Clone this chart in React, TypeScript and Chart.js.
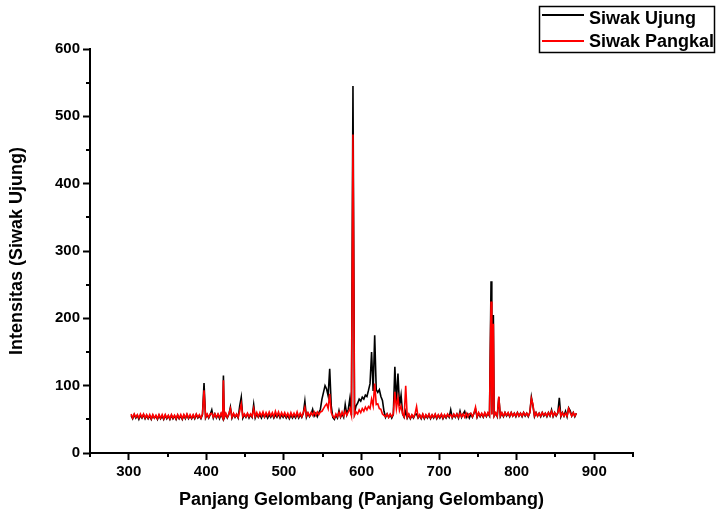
import { useEffect, useRef } from 'react';
import { Chart, registerables } from 'chart.js';

Chart.register(...registerables);

// Wavelength grid (nm)
const wavelengths: number[] = [
  303, 305, 307, 309, 311, 313, 315, 317, 319, 321,
  323, 325, 327, 329, 331, 333, 335, 337, 339, 341,
  343, 345, 347, 349, 351, 353, 355, 357, 359, 361,
  363, 365, 367, 369, 371, 373, 375, 377, 379, 381,
  383, 385, 387, 389, 391, 393, 395, 397, 399, 401,
  403, 405, 407, 409, 411, 413, 415, 417, 419, 421,
  422, 423, 425, 427, 429, 431, 433, 435, 437, 439,
  441, 443, 445, 447, 449, 451, 453, 455, 457, 459,
  461, 463, 465, 467, 469, 471, 473, 475, 477, 479,
  481, 483, 485, 487, 489, 491, 493, 495, 497, 499,
  501, 503, 505, 507, 509, 511, 513, 515, 517, 519,
  521, 523, 525, 527, 529, 531, 533, 535, 537, 539,
  541, 543, 545, 547, 549, 551, 553, 555, 557, 559,
  561, 563, 565, 567, 569, 571, 573, 575, 577, 579,
  581, 583, 585, 587, 589, 591, 593, 595, 597, 599,
  601, 603, 605, 607, 609, 611, 613, 615, 617, 619,
  621, 623, 625, 627, 629, 631, 633, 635, 637, 639,
  641, 643, 645, 647, 649, 651, 653, 655, 657, 659,
  661, 663, 665, 667, 669, 671, 673, 675, 677, 679,
  681, 683, 685, 687, 689, 691, 693, 695, 697, 699,
  701, 703, 705, 707, 709, 711, 713, 715, 717, 719,
  721, 723, 725, 727, 729, 731, 733, 735, 737, 739,
  741, 743, 745, 747, 749, 751, 753, 755, 757, 759,
  761, 763, 765, 767, 768, 770, 771, 773, 775, 777,
  779, 781, 783, 785, 787, 789, 791, 793, 795, 797,
  799, 801, 803, 805, 807, 809, 811, 813, 815, 817,
  819, 821, 823, 825, 827, 829, 831, 833, 835, 837,
  839, 841, 843, 845, 847, 849, 851, 853, 855, 857,
  859, 861, 863, 865, 867, 869, 871, 873, 875, 877,
];

// Siwak Ujung (black)
const siwakUjung: number[] = [
  56, 51, 57, 52, 56, 50, 56, 52, 57, 51,
  56, 51, 55, 50, 56, 52, 55, 50, 56, 51,
  55, 50, 56, 51, 55, 50, 56, 51, 55, 50,
  56, 51, 55, 50, 56, 51, 57, 51, 55, 51,
  56, 51, 57, 52, 55, 51, 57, 104, 52, 57,
  52, 57, 64, 52, 58, 52, 57, 51, 58, 52,
  115, 52, 58, 52, 57, 68, 52, 58, 53, 57,
  52, 70, 83, 52, 57, 53, 58, 52, 57, 53,
  72, 52, 58, 53, 57, 52, 58, 53, 57, 52,
  57, 53, 58, 52, 57, 53, 58, 52, 57, 53,
  57, 52, 56, 51, 57, 52, 56, 52, 58, 52,
  57, 53, 59, 77, 53, 59, 54, 58, 65, 55,
  59, 54, 60, 65, 80, 90, 100, 95, 85, 125,
  70, 53, 50, 56, 52, 63, 53, 58, 53, 72,
  57, 65, 81, 56, 545, 60, 70, 74, 80, 77,
  83, 80, 86, 84, 93, 103, 150, 92, 175, 94,
  90, 94, 84, 78, 62, 53, 58, 53, 57, 52,
  57, 128, 75, 118, 70, 86, 58, 53, 62, 52,
  57, 51, 56, 52, 57, 58, 52, 56, 51, 57,
  51, 56, 52, 57, 51, 56, 52, 57, 51, 56,
  52, 57, 51, 56, 52, 57, 53, 64, 52, 57,
  53, 58, 52, 62, 53, 58, 62, 53, 58, 52,
  58, 53, 59, 65, 53, 59, 54, 58, 53, 59,
  54, 59, 55, 255, 58, 205, 55, 59, 54, 83,
  54, 59, 54, 60, 55, 59, 54, 60, 55, 59,
  54, 60, 55, 59, 54, 60, 55, 59, 54, 60,
  83, 70, 54, 60, 55, 59, 54, 60, 55, 59,
  54, 60, 55, 64, 54, 60, 55, 59, 82, 54,
  60, 55, 62, 54, 67, 63, 55, 60, 54, 59,
];

// Siwak Pangkal (red)
const siwakPangkal: number[] = [
  58, 52, 58, 53, 57, 52, 58, 53, 58, 52,
  57, 52, 57, 51, 57, 52, 56, 51, 57, 52,
  57, 51, 57, 52, 56, 51, 57, 52, 56, 51,
  57, 52, 57, 51, 57, 52, 58, 52, 57, 52,
  57, 52, 58, 53, 57, 52, 58, 93, 53, 58,
  53, 58, 59, 53, 58, 53, 58, 53, 59, 53,
  108, 53, 59, 53, 58, 66, 53, 59, 54, 58,
  53, 62, 73, 54, 58, 54, 59, 54, 58, 54,
  66, 54, 60, 54, 60, 55, 61, 54, 60, 55,
  61, 55, 60, 54, 62, 55, 61, 54, 60, 55,
  60, 54, 59, 53, 60, 54, 59, 54, 61, 54,
  59, 54, 60, 68, 55, 60, 55, 60, 56, 61,
  56, 61, 57, 61, 62, 66, 70, 73, 66, 88,
  60, 55, 52, 58, 54, 60, 54, 61, 55, 62,
  56, 61, 66, 56, 473, 56, 61, 58, 64, 60,
  66, 62, 68, 64, 69, 66, 80, 70, 103, 72,
  73, 66, 65, 58, 56, 54, 58, 53, 58, 54,
  58, 91, 66, 82, 63, 70, 58, 54, 100, 53,
  58, 52, 57, 53, 58, 69, 53, 57, 52, 58,
  52, 57, 53, 58, 52, 57, 53, 58, 52, 57,
  53, 58, 52, 57, 53, 58, 54, 57, 53, 58,
  54, 58, 53, 59, 54, 58, 53, 59, 54, 58,
  59, 54, 59, 68, 54, 60, 55, 59, 54, 60,
  55, 60, 56, 225, 57, 192, 55, 60, 55, 84,
  55, 60, 55, 60, 56, 60, 55, 60, 55, 59,
  55, 60, 55, 59, 55, 60, 56, 59, 55, 60,
  81, 72, 55, 60, 55, 59, 55, 60, 56, 59,
  55, 60, 56, 62, 55, 60, 56, 60, 67, 55,
  60, 55, 59, 55, 66, 60, 55, 60, 55, 59,
];

const xMajorTicks: number[] = [300, 400, 500, 600, 700, 800, 900];
const xMinorTicks: number[] = [250, 350, 450, 550, 650, 750, 850, 950];
const yMinorTicks: number[] = [50, 150, 250, 350, 450, 550];

const seriesNames: string[] = ['Siwak Ujung', 'Siwak Pangkal'];
const seriesColors: string[] = ['#000000', '#ff0000'];

const FONT = "'Liberation Sans', Arial, Helvetica, sans-serif";

const decorPlugin = {
  id: 'decor',
  afterDraw(chart: any) {
    const { ctx, scales } = chart;
    const x = scales.x;
    const y = scales.y;
    const area = chart.chartArea;
    ctx.save();
    ctx.strokeStyle = '#000';
    ctx.lineWidth = 2;
    ctx.beginPath();
    xMinorTicks.forEach((v) => {
      const px = Math.round(x.getPixelForValue(v));
      ctx.moveTo(px, area.bottom);
      ctx.lineTo(px, area.bottom + 4);
    });
    yMinorTicks.forEach((v) => {
      const py = Math.round(y.getPixelForValue(v));
      ctx.moveTo(area.left - 4, py);
      ctx.lineTo(area.left, py);
    });
    ctx.stroke();

    // legend box
    const bx = 539, by = 6, bw = 176, bh = 47;
    ctx.lineWidth = 1.5;
    ctx.strokeRect(bx + 0.5, by + 0.5, bw - 1, bh - 1);
    const rows = [
      { lineY: 15, textY: 24 },
      { lineY: 41, textY: 47 },
    ];
    ctx.font = `bold 18px ${FONT}`;
    ctx.textBaseline = 'alphabetic';
    ctx.textAlign = 'left';
    rows.forEach((r, i) => {
      ctx.strokeStyle = seriesColors[i];
      ctx.lineWidth = 2;
      ctx.beginPath();
      ctx.moveTo(542, r.lineY);
      ctx.lineTo(584, r.lineY);
      ctx.stroke();
      ctx.fillStyle = '#000';
      ctx.fillText(seriesNames[i], 589, r.textY);
    });
    ctx.restore();
  },
};

export default function App() {
  const canvasRef = useRef<HTMLCanvasElement | null>(null);

  useEffect(() => {
    const canvas = canvasRef.current;
    if (!canvas) return;
    const toPoints = (vals: number[]) => wavelengths.map((w, i) => ({ x: w, y: vals[i] }));
    const chart = new Chart(canvas, {
      type: 'line',
      data: {
        datasets: [
          {
            label: seriesNames[0],
            data: toPoints(siwakUjung),
            borderColor: seriesColors[0],
            borderWidth: 1.6,
            pointRadius: 0,
            tension: 0,
            order: 2,
          },
          {
            label: seriesNames[1],
            data: toPoints(siwakPangkal),
            borderColor: seriesColors[1],
            borderWidth: 1.6,
            pointRadius: 0,
            tension: 0,
            order: 1,
          },
        ],
      },
      options: {
        responsive: false,
        animation: false,
        devicePixelRatio: 1,
        layout: { padding: { left: 0, top: 49, right: 84, bottom: 0 } },
        plugins: {
          legend: { display: false },
          tooltip: { enabled: false },
        },
        scales: {
          x: {
            type: 'linear',
            min: 250,
            max: 950,
            afterFit: (s: any) => {
              s.height = 62;
            },
            afterBuildTicks: (s: any) => {
              s.ticks = xMajorTicks.map((v) => ({ value: v }));
            },
            grid: {
              drawOnChartArea: false,
              drawTicks: true,
              tickLength: 7,
              tickWidth: 2,
              tickColor: '#000',
              color: '#000',
            },
            border: { display: true, color: '#000', width: 2 },
            ticks: {
              color: '#000',
              padding: 3,
              maxRotation: 0,
              font: { family: FONT, size: 15, weight: 'bold' },
            },
            title: {
              display: true,
              text: 'Panjang Gelombang (Panjang Gelombang)',
              color: '#000',
              font: { family: FONT, size: 18, weight: 'bold' },
              padding: { top: 0, bottom: 4 },
            },
          },
          y: {
            type: 'linear',
            min: 0,
            max: 600,
            afterFit: (s: any) => {
              s.width = 90;
            },
            grid: {
              drawOnChartArea: false,
              drawTicks: true,
              tickLength: 7,
              tickWidth: 2,
              tickColor: '#000',
              color: '#000',
            },
            border: { display: true, color: '#000', width: 2 },
            ticks: {
              stepSize: 100,
              color: '#000',
              padding: 3,
              font: { family: FONT, size: 15, weight: 'bold' },
            },
            title: {
              display: true,
              text: 'Intensitas (Siwak Ujung)',
              color: '#000',
              font: { family: FONT, size: 18, weight: 'bold' },
              padding: { top: 6, bottom: 0 },
            },
          },
        },
      },
      plugins: [decorPlugin],
    });
    return () => chart.destroy();
  }, []);

  return (
    <div style={{ position: 'absolute', left: 0, top: 0, width: 717, height: 515, background: '#fff' }}>
      <canvas ref={canvasRef} width={717} height={515} style={{ display: 'block', width: 717, height: 515 }} />
    </div>
  );
}
